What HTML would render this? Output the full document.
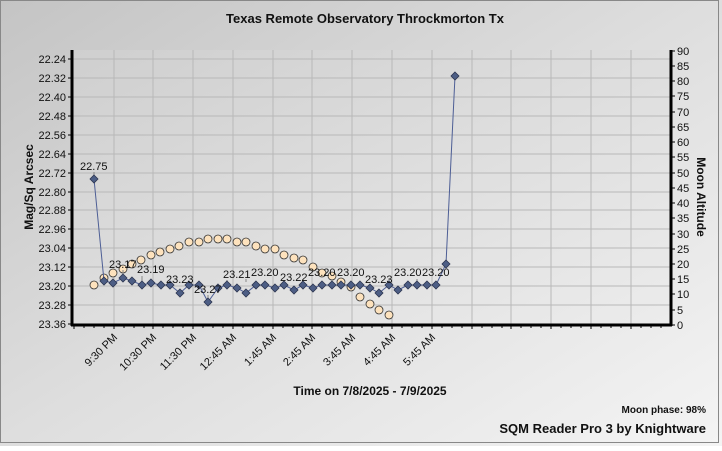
<!DOCTYPE html>
<html><head><style>
body{margin:0;width:722px;height:446px;overflow:hidden;font-family:"Liberation Sans",sans-serif;}
</style></head><body>
<svg width="722" height="446" xmlns="http://www.w3.org/2000/svg" font-family="Liberation Sans, sans-serif">
<defs>
<linearGradient id="bg" x1="0" y1="0" x2="1" y2="1">
<stop offset="0" stop-color="#c4c4c4"/><stop offset="0.5" stop-color="#dedede"/><stop offset="1" stop-color="#f4f4f4"/>
</linearGradient>
<linearGradient id="pa" x1="0" y1="0" x2="1" y2="1">
<stop offset="0" stop-color="#cfcfcf"/><stop offset="1" stop-color="#ececec"/>
</linearGradient>
<symbol id="d" viewBox="-4 -4 8 8" overflow="visible"><path d="M0,-4 L4,0 L0,4 L-4,0Z" fill="#4d5e85" stroke="#2c3550" stroke-width="0.8"/></symbol>
</defs>
<rect x="0" y="0" width="722" height="446" fill="url(#bg)"/>
<rect x="0.5" y="0.5" width="718" height="442" fill="none" stroke="#888"/>
<text x="365" y="23" text-anchor="middle" font-size="13" font-weight="bold" fill="#111">Texas Remote Observatory   Throckmorton Tx</text>
<rect x="72" y="50" width="599" height="275" fill="url(#pa)"/>
<g stroke="#b8b8b8" stroke-width="1">
<line x1="72" x2="671" y1="59" y2="59"/><line x1="72" x2="671" y1="78" y2="78"/><line x1="72" x2="671" y1="97" y2="97"/><line x1="72" x2="671" y1="116" y2="116"/><line x1="72" x2="671" y1="135" y2="135"/><line x1="72" x2="671" y1="154" y2="154"/><line x1="72" x2="671" y1="173" y2="173"/><line x1="72" x2="671" y1="192" y2="192"/><line x1="72" x2="671" y1="210" y2="210"/><line x1="72" x2="671" y1="229" y2="229"/><line x1="72" x2="671" y1="248" y2="248"/><line x1="72" x2="671" y1="267" y2="267"/><line x1="72" x2="671" y1="286" y2="286"/><line x1="72" x2="671" y1="305" y2="305"/>
<line y1="50" y2="325" x1="114" x2="114"/><line y1="50" y2="325" x1="153" x2="153"/><line y1="50" y2="325" x1="193" x2="193"/><line y1="50" y2="325" x1="233" x2="233"/><line y1="50" y2="325" x1="273" x2="273"/><line y1="50" y2="325" x1="312" x2="312"/><line y1="50" y2="325" x1="352" x2="352"/><line y1="50" y2="325" x1="392" x2="392"/><line y1="50" y2="325" x1="432" x2="432"/><line y1="50" y2="325" x1="472" x2="472"/><line y1="50" y2="325" x1="511" x2="511"/><line y1="50" y2="325" x1="551" x2="551"/><line y1="50" y2="325" x1="591" x2="591"/><line y1="50" y2="325" x1="631" x2="631"/>
</g>
<g stroke="#000" stroke-width="3"><line x1="72" y1="50" x2="72" y2="326"/><line x1="671" y1="50" x2="671" y2="326"/><line x1="71" y1="325" x2="672" y2="325"/></g>
<g stroke="#000" stroke-width="1">
<path d="M68 59h4M68 78h4M68 97h4M68 116h4M68 135h4M68 154h4M68 173h4M68 192h4M68 210h4M68 229h4M68 248h4M68 267h4M68 286h4M68 305h4M68 324h4"/>
<path d="M671 51h4M671 66h4M671 81h4M671 96h4M671 112h4M671 127h4M671 142h4M671 157h4M671 173h4M671 188h4M671 203h4M671 218h4M671 234h4M671 249h4M671 264h4M671 279h4M671 294h4M671 310h4M671 325h4"/>
<path d="M74 325v4M84 325v3M94 325v3M104 325v3M114 325v4M124 325v3M134 325v3M144 325v3M153 325v4M163 325v3M173 325v3M183 325v3M193 325v4M203 325v3M213 325v3M223 325v3M233 325v4M243 325v3M253 325v3M263 325v3M273 325v4M283 325v3M293 325v3M303 325v3M312 325v4M322 325v3M332 325v3M342 325v3M352 325v4M362 325v3M372 325v3M382 325v3M392 325v4M402 325v3M412 325v3M422 325v3M432 325v4M442 325v3M452 325v3M462 325v3M472 325v4M482 325v3M492 325v3M502 325v3M511 325v4M521 325v3M531 325v3M541 325v3M551 325v4M561 325v3M571 325v3M581 325v3M591 325v4M601 325v3M611 325v3M621 325v3M631 325v4M641 325v3M651 325v3M661 325v3"/>
</g>
<g font-size="11" fill="#111" text-anchor="end">
<text x="66" y="63">22.24</text><text x="66" y="82">22.32</text><text x="66" y="101">22.40</text><text x="66" y="120">22.48</text><text x="66" y="139">22.56</text><text x="66" y="158">22.64</text><text x="66" y="177">22.72</text><text x="66" y="196">22.80</text><text x="66" y="214">22.88</text><text x="66" y="233">22.96</text><text x="66" y="252">23.04</text><text x="66" y="271">23.12</text><text x="66" y="290">23.20</text><text x="66" y="309">23.28</text><text x="66" y="328">23.36</text>
</g>
<g font-size="11" fill="#111">
<text x="677" y="55">90</text><text x="677" y="70">85</text><text x="677" y="85">80</text><text x="677" y="100">75</text><text x="677" y="116">70</text><text x="677" y="131">65</text><text x="677" y="146">60</text><text x="677" y="161">55</text><text x="677" y="177">50</text><text x="677" y="192">45</text><text x="677" y="207">40</text><text x="677" y="222">35</text><text x="677" y="238">30</text><text x="677" y="253">25</text><text x="677" y="268">20</text><text x="677" y="283">15</text><text x="677" y="298">10</text><text x="677" y="314">5</text><text x="677" y="329">0</text>
</g>
<text transform="translate(33,187) rotate(-90)" text-anchor="middle" font-size="12" font-weight="bold" fill="#111">Mag/Sq Arcsec</text>
<text transform="translate(697,197) rotate(90)" text-anchor="middle" font-size="12" font-weight="bold" fill="#111">Moon Altitude</text>
<g font-size="11" fill="#111" text-anchor="end">
<text transform="translate(118,338) rotate(-45)">9:30 PM</text>
<text transform="translate(157,338) rotate(-45)">10:30 PM</text>
<text transform="translate(197,338) rotate(-45)">11:30 PM</text>
<text transform="translate(237,338) rotate(-45)">12:45 AM</text>
<text transform="translate(277,338) rotate(-45)">1:45 AM</text>
<text transform="translate(316,338) rotate(-45)">2:45 AM</text>
<text transform="translate(356,338) rotate(-45)">3:45 AM</text>
<text transform="translate(396,338) rotate(-45)">4:45 AM</text>
<text transform="translate(436,338) rotate(-45)">5:45 AM</text>
</g>
<text x="370" y="395" text-anchor="middle" font-size="12" font-weight="bold" fill="#111">Time on 7/8/2025 - 7/9/2025</text>
<text x="706" y="413" text-anchor="end" font-size="10" font-weight="bold" fill="#111">Moon phase: 98%</text>
<text x="706" y="433" text-anchor="end" font-size="13" font-weight="bold" fill="#111">SQM Reader Pro 3 by Knightware</text>
<g fill="#fde2bd" stroke="#333" stroke-width="0.8">
<circle cx="94" cy="285" r="4"/><circle cx="104" cy="278" r="4"/><circle cx="113" cy="273" r="4"/><circle cx="123" cy="269" r="4"/><circle cx="132" cy="264" r="4"/><circle cx="141" cy="260" r="4"/><circle cx="151" cy="255" r="4"/><circle cx="160" cy="252" r="4"/><circle cx="170" cy="249" r="4"/><circle cx="179" cy="246" r="4"/><circle cx="189" cy="242" r="4"/><circle cx="199" cy="242" r="4"/><circle cx="208" cy="239" r="4"/><circle cx="218" cy="239" r="4"/><circle cx="227" cy="239" r="4"/><circle cx="237" cy="242" r="4"/><circle cx="246" cy="242" r="4"/><circle cx="256" cy="246" r="4"/><circle cx="265" cy="249" r="4"/><circle cx="275" cy="249" r="4"/><circle cx="284" cy="255" r="4"/><circle cx="294" cy="258" r="4"/><circle cx="303" cy="260" r="4"/><circle cx="313" cy="267" r="4"/><circle cx="322" cy="273" r="4"/><circle cx="332" cy="276" r="4"/><circle cx="341" cy="282" r="4"/><circle cx="351" cy="287" r="4"/><circle cx="360" cy="297" r="4"/><circle cx="370" cy="304" r="4"/><circle cx="379" cy="310" r="4"/><circle cx="389" cy="315" r="4"/>
</g>
<polyline fill="none" stroke="#4d5e95" stroke-width="1" points="94,179 104,281 113,283 123,278 132,281 142,285 151,283 161,285 170,285 180,293 189,285 199,285 208,302 218,288 227,285 237,288 246,293 256,285 265,285 275,288 284,285 294,290 303,285 313,288 322,285 332,285 341,285 351,285 360,285 370,288 379,293 389,285 398,290 408,285 417,285 427,285 436,285 446,264 455,76"/>
<g stroke="#888" stroke-width="1">
<path d="M94 172v4M123 270v5M142 276v6M170 287v0M208 295v4M227 280v3M246 279v3M275 284v2M303 279v3M332 279v3M360 286v2M389 279v3M417 279v3"/>
</g>
<g>
<use href="#d" x="90" y="175" width="8" height="8"/><use href="#d" x="100" y="277" width="8" height="8"/><use href="#d" x="109" y="279" width="8" height="8"/><use href="#d" x="119" y="274" width="8" height="8"/><use href="#d" x="128" y="277" width="8" height="8"/><use href="#d" x="138" y="281" width="8" height="8"/><use href="#d" x="147" y="279" width="8" height="8"/><use href="#d" x="157" y="281" width="8" height="8"/><use href="#d" x="166" y="281" width="8" height="8"/><use href="#d" x="176" y="289" width="8" height="8"/><use href="#d" x="185" y="281" width="8" height="8"/><use href="#d" x="195" y="281" width="8" height="8"/><use href="#d" x="204" y="298" width="8" height="8"/><use href="#d" x="214" y="284" width="8" height="8"/><use href="#d" x="223" y="281" width="8" height="8"/><use href="#d" x="233" y="284" width="8" height="8"/><use href="#d" x="242" y="289" width="8" height="8"/><use href="#d" x="252" y="281" width="8" height="8"/><use href="#d" x="261" y="281" width="8" height="8"/><use href="#d" x="271" y="284" width="8" height="8"/><use href="#d" x="280" y="281" width="8" height="8"/><use href="#d" x="290" y="286" width="8" height="8"/><use href="#d" x="299" y="281" width="8" height="8"/><use href="#d" x="309" y="284" width="8" height="8"/><use href="#d" x="318" y="281" width="8" height="8"/><use href="#d" x="328" y="281" width="8" height="8"/><use href="#d" x="337" y="281" width="8" height="8"/><use href="#d" x="347" y="281" width="8" height="8"/><use href="#d" x="356" y="281" width="8" height="8"/><use href="#d" x="366" y="284" width="8" height="8"/><use href="#d" x="375" y="289" width="8" height="8"/><use href="#d" x="385" y="281" width="8" height="8"/><use href="#d" x="394" y="286" width="8" height="8"/><use href="#d" x="404" y="281" width="8" height="8"/><use href="#d" x="413" y="281" width="8" height="8"/><use href="#d" x="423" y="281" width="8" height="8"/><use href="#d" x="432" y="281" width="8" height="8"/><use href="#d" x="442" y="260" width="8" height="8"/><use href="#d" x="451" y="72" width="8" height="8"/>
</g>
<g font-size="11" fill="#111">
<text x="80" y="170">22.75</text>
<text x="109" y="268">23.17</text>
<text x="137" y="273">23.19</text>
<text x="166" y="283">23.23</text>
<text x="194" y="293">23.27</text>
<text x="223" y="278">23.21</text>
<text x="251" y="276">23.20</text>
<text x="280" y="281">23.22</text>
<text x="308" y="276">23.20</text>
<text x="337" y="276">23.20</text>
<text x="365" y="283">23.23</text>
<text x="394" y="276">23.20</text>
<text x="422" y="276">23.20</text>
</g>
</svg>
</body></html>
